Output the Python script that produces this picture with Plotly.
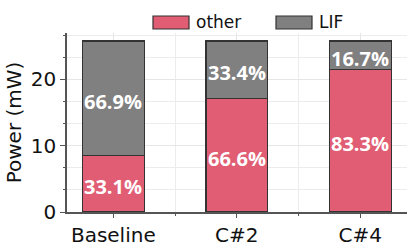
import plotly.graph_objects as go

categories = ["Baseline", "C#2", "C#4"]
other_vals = [8.54, 17.18, 21.49]
lif_vals = [17.26, 8.62, 4.31]
other_pct = ["33.1%", "66.6%", "83.3%"]
lif_pct = ["66.9%", "33.4%", "16.7%"]
y_ticks = [0, 10, 20]

PINK = "#e05d73"
GREY = "#808080"
EDGE = "#333333"
LABEL_FONT = dict(family="Open Sans", size=20, color="white", weight="bold")

x = list(range(len(categories)))

fig = go.Figure()
fig.add_trace(go.Bar(
    x=x, y=other_vals, name="other", width=0.5,
    marker=dict(color=PINK, line=dict(color=EDGE, width=1.2)),
))
fig.add_trace(go.Bar(
    x=x, y=lif_vals, name="LIF", width=0.5,
    marker=dict(color=GREY, line=dict(color=EDGE, width=1.2)),
))

annotations = []
for xi, o, l, op, lp in zip(x, other_vals, lif_vals, other_pct, lif_pct):
    annotations.append(dict(x=xi, y=o / 2, text=op, showarrow=False, yshift=-3,
                            xanchor="center", yanchor="middle", font=LABEL_FONT))
    annotations.append(dict(x=xi, y=o + l / 2, text=lp, showarrow=False, yshift=-3,
                            xanchor="center", yanchor="middle", font=LABEL_FONT))

# legend drawn as boxes + labels in paper coordinates
W, H = 415, 249
ml, mr, mt, mb = 67, 8, 33, 37
pw, ph = W - ml - mr, H - mt - mb

def px_to_paper_x(px):
    return (px - ml) / pw

def px_to_paper_y(py):
    return (H - mb - py) / ph

legend_items = [("other", PINK, 153), ("LIF", GREY, 276)]
shapes = []
for name, col, x0 in legend_items:
    shapes.append(dict(type="rect", xref="paper", yref="paper",
                       x0=px_to_paper_x(x0), x1=px_to_paper_x(x0 + 36),
                       y0=px_to_paper_y(29), y1=px_to_paper_y(16),
                       fillcolor=col, line=dict(color=EDGE, width=1.2)))
    annotations.append(dict(xref="paper", yref="paper",
                            x=px_to_paper_x(x0 + 41), y=px_to_paper_y(22.5),
                            text=name, showarrow=False, xanchor="left", yanchor="middle",
                            font=dict(family="DejaVu Sans", size=17, color="#111111")))

fig.update_layout(
    barmode="stack",
    width=W, height=H,
    margin=dict(l=ml, r=mr, t=mt, b=mb, autoexpand=False),
    plot_bgcolor="white", paper_bgcolor="white",
    showlegend=False,
    font=dict(family="DejaVu Sans", color="#111111"),
    shapes=shapes, annotations=annotations,
)
fig.update_xaxes(
    range=[-0.375, 2.378], automargin=False,
    tickmode="array", tickvals=x, ticktext=categories,
    tickfont=dict(size=20, family="DejaVu Sans", color="#111111"),
    ticks="outside", ticklen=4, tickcolor="#555555", tickwidth=1.2,
    showline=True, linecolor="#555555", linewidth=1.5,
    showgrid=True, gridcolor="#e6e6e6", gridwidth=1,
    minor=dict(dtick=0.5, tick0=0, ticks="outside", ticklen=2, tickcolor="#555555",
               showgrid=True, gridcolor="#ececec", gridwidth=1),
    zeroline=False,
)
fig.update_yaxes(
    range=[0, 27], automargin=False,
    tickmode="array", tickvals=y_ticks,
    tickfont=dict(size=20, family="DejaVu Sans", color="#111111"),
    ticks="outside", ticklen=5, tickcolor="#555555", tickwidth=1.2,
    showline=True, linecolor="#555555", linewidth=1.5,
    showgrid=True, gridcolor="#e6e6e6", gridwidth=1,
    minor=dict(dtick=10/3, tick0=0, ticks="outside", ticklen=2, tickcolor="#555555",
               showgrid=True, gridcolor="#ececec", gridwidth=1),
    zeroline=False,
    title=dict(text="Power (mW)", font=dict(size=20, family="DejaVu Sans", color="#111111"), standoff=4),
)

fig.write_html("out.html", config={"displayModeBar": False},
               post_script="document.body.style.margin='0';document.body.style.overflow='hidden';")
